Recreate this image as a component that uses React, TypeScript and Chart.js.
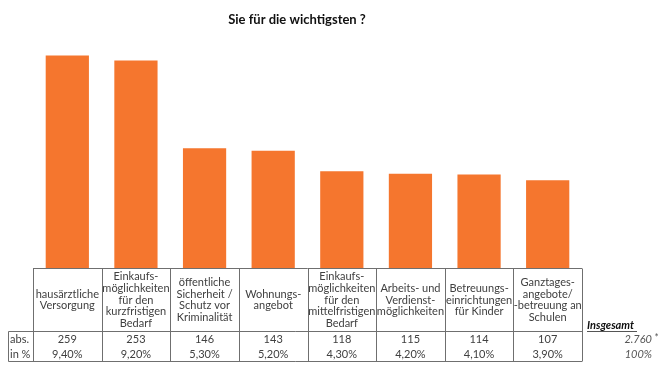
import React, { useEffect, useRef } from "react";
import { Chart, registerables } from "chart.js";

Chart.register(...registerables);

const titleText = "Sie für die wichtigsten ?";
const categories: string[][] = [
  ["hausärztliche", "Versorgung"],
  ["Einkaufs-", "möglichkeiten", "für den", "kurzfristigen", "Bedarf"],
  ["öffentliche", "Sicherheit /", "Schutz vor", "Kriminalität"],
  ["Wohnungs-", "angebot"],
  ["Einkaufs-", "möglichkeiten", "für den", "mittelfristigen", "Bedarf"],
  ["Arbeits- und", "Verdienst-", "möglichkeiten"],
  ["Betreuungs-", "einrichtungen", "für Kinder"],
  ["Ganztages-", "angebote/", "-betreuung an", "Schulen"],
];
const absValues = [259, 253, 146, 143, 118, 115, 114, 107];
const pctLabels = ["9,40%", "9,20%", "5,30%", "5,20%", "4,30%", "4,20%", "4,10%", "3,90%"];
const rowLabels = ["abs.", "in %"];
const totalLabel = "Insgesamt";
const totalAbs = "2.760";
const totalPct = "100%";

const FONT = "Lato, 'Open Sans', sans-serif";
const TEXT = "#404040";
const LINE = "#6f6f6f";
const ORANGE = "#f5762e";

const tablePlugin = {
  id: "tablePlugin",
  afterDraw(chart: any) {
    const ctx = chart.ctx as CanvasRenderingContext2D;
    const x = chart.scales.x;
    const area = chart.chartArea;
    const n = categories.length;
    const colW = (area.right - area.left) / n;
    const top = Math.round(area.bottom) + 0.5;
    const headerH = 63;
    const rowY = top + headerH;
    const bottom = rowY + 30;
    const labelLeft = 8.5;
    ctx.save();
    // title
    ctx.fillStyle = "#111";
    ctx.font = `bold 13px ${FONT}`;
    ctx.textAlign = "center";
    ctx.textBaseline = "middle";
    ctx.fillText(titleText, 297, 20);

    // grid
    ctx.strokeStyle = LINE;
    ctx.lineWidth = 1;
    ctx.beginPath();
    ctx.moveTo(area.left, top);
    ctx.lineTo(area.right, top);
    ctx.moveTo(labelLeft, rowY);
    ctx.lineTo(area.right, rowY);
    ctx.moveTo(labelLeft, bottom);
    ctx.lineTo(area.right, bottom);
    ctx.moveTo(labelLeft, rowY);
    ctx.lineTo(labelLeft, bottom);
    for (let i = 0; i <= n; i++) {
      const xp = Math.round(area.left + i * colW) + 0.5;
      ctx.moveTo(xp, top);
      ctx.lineTo(xp, bottom);
    }
    ctx.stroke();

    // header text
    ctx.fillStyle = TEXT;
    ctx.font = `11px ${FONT}`;
    const lh = 11.7;
    categories.forEach((lines, i) => {
      const cx = x.getPixelForValue(i);
      const cy = top + headerH / 2;
      const start = cy - ((lines.length - 1) * lh) / 2;
      lines.forEach((l, j) => ctx.fillText(l, cx, start + j * lh));
      ctx.fillText(String(absValues[i]), cx, rowY + 8);
      ctx.fillText(pctLabels[i], cx, rowY + 22.5);
    });
    ctx.textAlign = "left";
    ctx.fillText(rowLabels[0], 10, rowY + 8);
    ctx.fillText(rowLabels[1], 10, rowY + 22.5);

    // totals
    ctx.font = `italic bold 11px ${FONT}`;
    ctx.fillStyle = "#111";
    ctx.fillText(totalLabel, 587, 325);
    ctx.beginPath();
    ctx.strokeStyle = "#555";
    ctx.moveTo(587, 331.5);
    ctx.lineTo(637, 331.5);
    ctx.stroke();
    ctx.font = `italic 11px ${FONT}`;
    ctx.fillStyle = "#555";
    ctx.textAlign = "right";
    ctx.fillText(totalAbs, 652, rowY + 8);
    ctx.fillText(totalPct, 652, rowY + 22.5);
    ctx.textAlign = "left";
    ctx.fillText("*", 654, rowY + 7);
    ctx.restore();
  },
};

export default function App() {
  const ref = useRef<HTMLCanvasElement>(null);
  useEffect(() => {
    if (!ref.current) return;
    const chart = new Chart(ref.current, {
      type: "bar",
      data: {
        labels: categories.map((c) => c.join(" ")),
        datasets: [
          {
            data: absValues,
            backgroundColor: ORANGE,
            borderWidth: 0,
            barPercentage: 0.63,
            categoryPercentage: 1,
          },
        ],
      },
      options: {
        responsive: false,
        animation: false,
        layout: { padding: { left: 33, right: 88, top: 22, bottom: 106 } },
        plugins: { legend: { display: false }, tooltip: { enabled: false }, title: { display: false } },
        scales: {
          x: { display: false, offset: true },
          y: { display: false, min: 0, max: 300 },
        },
      },
      plugins: [tablePlugin],
    });
    return () => chart.destroy();
  }, []);
  return (
    <div style={{ position: "fixed", left: 0, top: 0, width: 670, height: 374, background: "#fff" }}>
      <canvas ref={ref} width={670} height={374} style={{ width: 670, height: 374, display: "block" }} />
    </div>
  );
}
